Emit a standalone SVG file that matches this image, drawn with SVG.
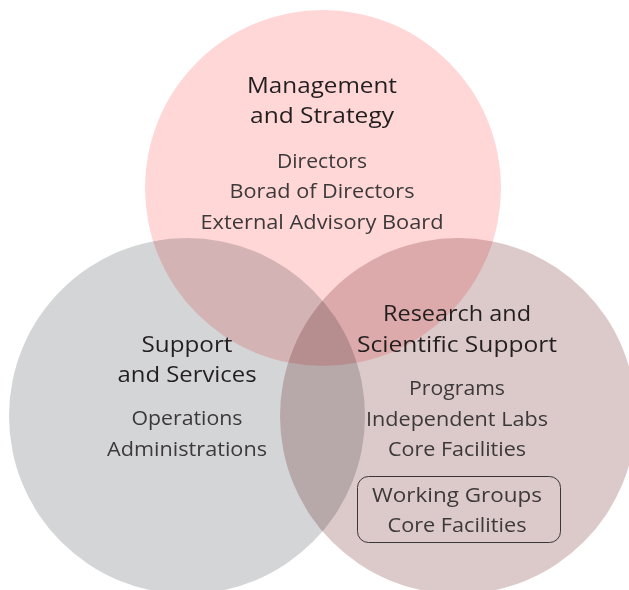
<svg xmlns="http://www.w3.org/2000/svg" width="629" height="590" viewBox="0 0 629 590">
<style>
.c{mix-blend-mode:multiply}
.t{font-family:"Open Sans","Noto Sans",sans-serif;font-size:21.5px;font-weight:500;fill:#231f20;text-anchor:middle}
.b{font-family:"Open Sans","Noto Sans",sans-serif;font-size:20px;font-weight:400;fill:#3d393a;text-anchor:middle}
</style>
<rect width="629" height="590" fill="#ffffff"/>
<g id="circles">
<circle id="c-management" class="c" cx="323" cy="188" r="178" fill="#ffd7d7"/>
<circle id="c-support" class="c" cx="187" cy="416" r="178" fill="#d4d5d7"/>
<circle id="c-research" class="c" cx="458" cy="416" r="178" fill="#dccaca"/>
</g>
<g id="management">
<text class="t" x="322" y="93" textLength="150" lengthAdjust="spacingAndGlyphs">Management</text>
<text class="t" x="322" y="123" textLength="144" lengthAdjust="spacingAndGlyphs">and Strategy</text>
<text class="b" x="322" y="168" textLength="90" lengthAdjust="spacingAndGlyphs">Directors</text>
<text class="b" x="322" y="198" textLength="185" lengthAdjust="spacingAndGlyphs">Borad of Directors</text>
<text class="b" x="322" y="229" textLength="243" lengthAdjust="spacingAndGlyphs">External Advisory Board</text>
</g>
<g id="support">
<text class="t" x="187" y="352" textLength="91" lengthAdjust="spacingAndGlyphs">Support</text>
<text class="t" x="187" y="382" textLength="139" lengthAdjust="spacingAndGlyphs">and Services</text>
<text class="b" x="187" y="425" textLength="111" lengthAdjust="spacingAndGlyphs">Operations</text>
<text class="b" x="187" y="456" textLength="160" lengthAdjust="spacingAndGlyphs">Administrations</text>
</g>
<g id="research">
<text class="t" x="457" y="321" textLength="148" lengthAdjust="spacingAndGlyphs">Research and</text>
<text class="t" x="457" y="352" textLength="200" lengthAdjust="spacingAndGlyphs">Scientific Support</text>
<text class="b" x="457" y="395" textLength="96" lengthAdjust="spacingAndGlyphs">Programs</text>
<text class="b" x="457" y="426" textLength="182" lengthAdjust="spacingAndGlyphs">Independent Labs</text>
<text class="b" x="457" y="456" textLength="138" lengthAdjust="spacingAndGlyphs">Core Facilities</text>
</g>
<g id="working-groups">
<rect x="357.5" y="476.5" width="203" height="66" rx="11" fill="none" stroke="#3a3536" stroke-width="1"/>
<text class="b" x="457" y="502" textLength="170" lengthAdjust="spacingAndGlyphs">Working Groups</text>
<text class="b" x="457" y="532" textLength="139" lengthAdjust="spacingAndGlyphs">Core Facilities</text>
</g>
</svg>
